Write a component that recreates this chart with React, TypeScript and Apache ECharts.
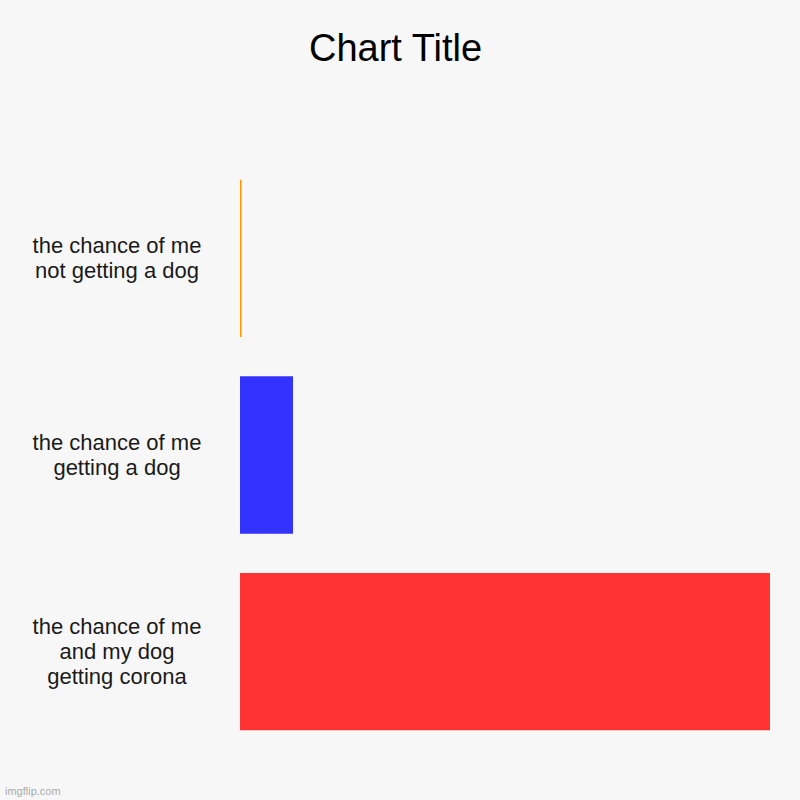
import React, { useEffect, useRef } from "react";
import * as echarts from "echarts";

const categories = [
  "the chance of me\nnot getting a dog",
  "the chance of me\ngetting a dog",
  "the chance of me\nand my dog\ngetting corona",
];
const values = [0.3, 10, 100];
const colors = ["#ff9900", "#3333ff", "#ff3333"];

export default function App() {
  const ref = useRef<HTMLDivElement>(null);
  useEffect(() => {
    document.body.style.margin = "0";
    const chart = echarts.init(ref.current!, null, { renderer: "svg" });
    chart.setOption({
      animation: false,
      backgroundColor: "#f7f7f7",
      title: {
        text: "Chart Title",
        left: 304,
        top: 24,
        textStyle: {
          fontFamily: "Liberation Sans, Arial, sans-serif",
          fontSize: 38,
          fontWeight: "normal",
          color: "#000",
        },
      },
      graphic: [
        {
          type: "text",
          left: 5,
          top: 785,
          style: {
            text: "imgflip.com",
            fontFamily: "Liberation Sans, Arial, sans-serif",
            fontSize: 11,
            fill: "#aaaaaa",
          },
        },
      ],
      grid: { left: 240, right: 30, top: 160, bottom: 50, containLabel: false },
      xAxis: {
        type: "value",
        min: 0,
        max: 100,
        show: false,
      },
      yAxis: {
        type: "category",
        data: categories,
        inverse: true,
        axisLine: { show: false },
        axisTick: { show: false },
        splitLine: { show: false },
        axisLabel: {
          align: "center",
          margin: 123,
          padding: [4, 0, 0, 0],
          fontFamily: "Liberation Sans, Arial, sans-serif",
          fontSize: 22,
          lineHeight: 25,
          color: "#1a1a1a",
        },
      },
      series: [
        {
          type: "bar",
          data: values.map((v, i) => ({ value: v, itemStyle: { color: colors[i] } })),
          barCategoryGap: "20%",
        },
      ],
    });
    return () => chart.dispose();
  }, []);
  return (
    <div
      ref={ref}
      style={{ width: 800, height: 800, position: "fixed", left: 0, top: 0 }}
    />
  );
}
